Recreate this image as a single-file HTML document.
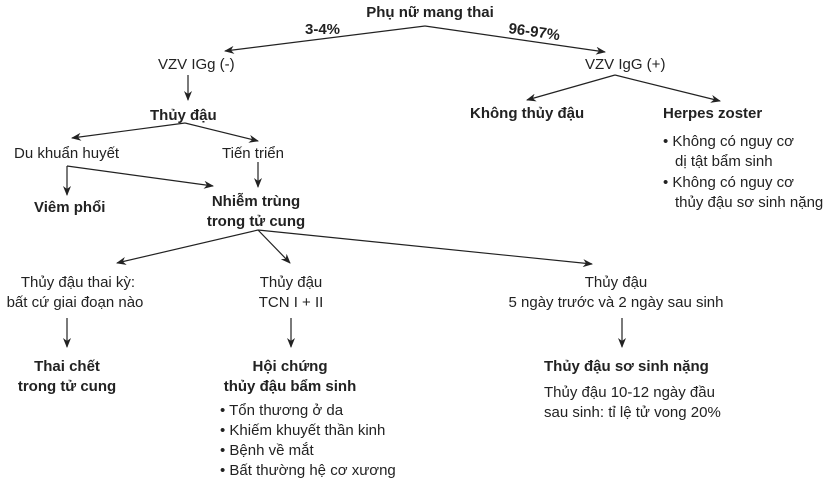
<!DOCTYPE html>
<html><head><meta charset="utf-8"><style>
html,body{margin:0;padding:0;background:#fff;}
svg{display:block;}
text{font-family:"Liberation Sans",Arial,sans-serif;font-size:15px;fill:#222;}
.b{font-weight:bold;}
</style></head><body>
<svg width="833" height="481" viewBox="0 0 833 481" xmlns="http://www.w3.org/2000/svg">
<defs><marker id="a" markerWidth="10" markerHeight="8" refX="9" refY="4" orient="auto" markerUnits="userSpaceOnUse"><path d="M0,0 L10,4 L0,8 L3,4 Z" fill="#222"/></marker></defs>
<g stroke="#222" stroke-width="1.2" fill="none" marker-end="url(#a)">
<line x1="425" y1="26" x2="225" y2="51"/>
<line x1="425" y1="26" x2="605" y2="52"/>
<line x1="188" y1="75" x2="188" y2="100"/>
<line x1="615" y1="75" x2="527" y2="100"/>
<line x1="615" y1="75" x2="720" y2="101"/>
<line x1="185" y1="123" x2="72" y2="138"/>
<line x1="185" y1="123" x2="258" y2="141"/>
<line x1="258" y1="162" x2="258" y2="187"/>
<line x1="67" y1="166" x2="67" y2="195"/>
<line x1="67" y1="166" x2="213" y2="186"/>
<line x1="258" y1="230" x2="117" y2="263"/>
<line x1="258" y1="230" x2="290" y2="263"/>
<line x1="258" y1="230" x2="592" y2="264"/>
<line x1="67" y1="318" x2="67" y2="347"/>
<line x1="291" y1="318" x2="291" y2="347"/>
<line x1="622" y1="318" x2="622" y2="347"/>
</g>
<text class="b" x="430" y="17" text-anchor="middle">Phụ nữ mang thai</text>
<text class="b" x="305" y="34">3-4%</text>
<text class="b" x="508" y="33" transform="rotate(8 508 33)">96-97%</text>
<text x="158" y="69">VZV IGg (-)</text>
<text x="585" y="69">VZV IgG (+)</text>
<text class="b" x="470" y="118">Không thủy đậu</text>
<text class="b" x="663" y="118">Herpes zoster</text>
<text x="663" y="146">• Không có nguy cơ</text>
<text x="675" y="166">dị tật bẩm sinh</text>
<text x="663" y="187">• Không có nguy cơ</text>
<text x="675" y="207">thủy đậu sơ sinh nặng</text>
<text class="b" x="150" y="120">Thủy đậu</text>
<text x="14" y="158">Du khuẩn huyết</text>
<text x="222" y="158">Tiến triển</text>
<text class="b" x="34" y="212">Viêm phổi</text>
<text class="b" x="256" y="206" text-anchor="middle">Nhiễm trùng</text>
<text class="b" x="256" y="226" text-anchor="middle">trong tử cung</text>
<text x="78" y="287" text-anchor="middle">Thủy đậu thai kỳ:</text>
<text x="75" y="307" text-anchor="middle">bất cứ giai đoạn nào</text>
<text x="291" y="287" text-anchor="middle">Thủy đậu</text>
<text x="291" y="307" text-anchor="middle">TCN I + II</text>
<text x="616" y="287" text-anchor="middle">Thủy đậu</text>
<text x="616" y="307" text-anchor="middle">5 ngày trước và 2 ngày sau sinh</text>
<text class="b" x="67" y="371" text-anchor="middle">Thai chết</text>
<text class="b" x="67" y="391" text-anchor="middle">trong tử cung</text>
<text class="b" x="290" y="371" text-anchor="middle">Hội chứng</text>
<text class="b" x="290" y="391" text-anchor="middle">thủy đậu bẩm sinh</text>
<text x="220" y="415">• Tổn thương ở da</text>
<text x="220" y="435">• Khiếm khuyết thần kinh</text>
<text x="220" y="455">• Bệnh về mắt</text>
<text x="220" y="475">• Bất thường hệ cơ xương</text>
<text class="b" x="544" y="371">Thủy đậu sơ sinh nặng</text>
<text x="544" y="397">Thủy đậu 10-12 ngày đầu</text>
<text x="544" y="417">sau sinh: tỉ lệ tử vong 20%</text>
</svg>
</body></html>
